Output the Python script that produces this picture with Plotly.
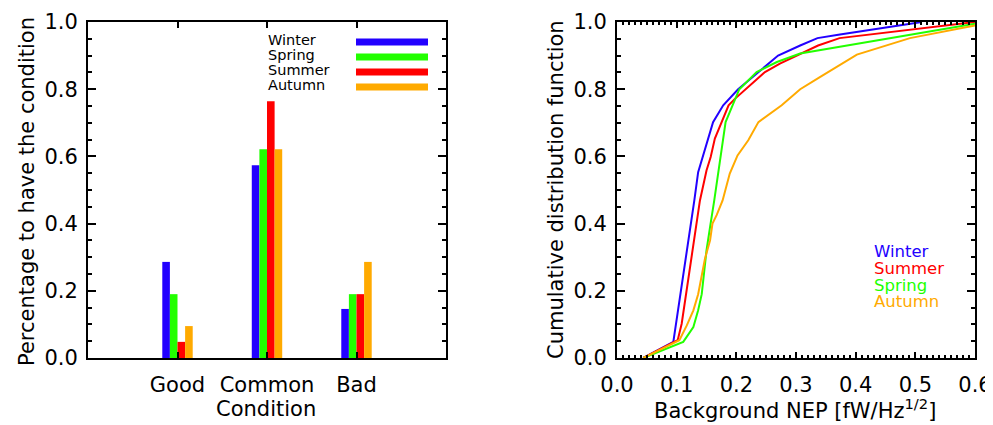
import plotly.graph_objects as go

# ---------------- data ----------------
conditions = ["Good", "Common", "Bad"]
seasons = ["Winter", "Spring", "Summer", "Autumn"]
winter_pct = [0.286, 0.574, 0.146]
spring_pct = [0.190, 0.621, 0.190]
summer_pct = [0.048, 0.764, 0.190]
autumn_pct = [0.095, 0.621, 0.286]

winter_nep = [0.044, 0.0944, 0.1296, 0.136, 0.161, 0.178, 0.203, 0.237, 0.270, 0.307, 0.336, 0.371, 0.511]
winter_cdf = [0.0, 0.048, 0.469, 0.553, 0.702, 0.752, 0.800, 0.851, 0.900, 0.930, 0.952, 0.962, 1.0]

summer_nep = [0.044, 0.1017, 0.1084, 0.139, 0.150, 0.157, 0.164, 0.187, 0.198, 0.248, 0.273, 0.307, 0.337, 0.373, 0.6]
summer_cdf = [0.0, 0.053, 0.102, 0.469, 0.558, 0.598, 0.653, 0.752, 0.772, 0.851, 0.876, 0.906, 0.930, 0.952, 1.0]

spring_nep = [0.044, 0.111, 0.128, 0.136, 0.142, 0.145, 0.150, 0.156, 0.163, 0.182, 0.205, 0.234, 0.268, 0.307, 0.6]
spring_cdf = [0.0, 0.048, 0.092, 0.142, 0.190, 0.241, 0.320, 0.390, 0.469, 0.702, 0.800, 0.851, 0.881, 0.906, 0.995]

autumn_nep = [0.044, 0.1045, 0.117, 0.128, 0.136, 0.142, 0.1475, 0.156, 0.160, 0.167, 0.177, 0.189, 0.202,
              0.220, 0.237, 0.276, 0.307, 0.340, 0.402, 0.491, 0.6]
autumn_cdf = [0.0, 0.053, 0.097, 0.142, 0.190, 0.251, 0.296, 0.350, 0.400, 0.425, 0.469, 0.549, 0.603,
              0.648, 0.702, 0.752, 0.800, 0.836, 0.903, 0.952, 0.99]

colors = {"Winter": "#2200FF", "Spring": "#22FF00", "Summer": "#FF0000", "Autumn": "#FFAA00"}

# ---------------- layout helpers ----------------
# the page body has an 8 px margin, so the figure is drawn 8 px in from the window corner
OFF = 8
W, H = 993 - OFF, 425 - OFF
FONT = "DejaVu Sans"
TXT = 21


def px(x):
    return (x - OFF) / W


def py(y):
    return 1 - (y - OFF) / H


fig = go.Figure()

bar_vals = {"Winter": winter_pct, "Spring": spring_pct, "Summer": summer_pct, "Autumn": autumn_pct}
cat_pos = list(range(1, len(conditions) + 1))
for s in seasons:
    fig.add_trace(go.Bar(x=cat_pos, y=bar_vals[s], marker=dict(color=colors[s], line=dict(width=0)),
                         xaxis="x", yaxis="y", showlegend=False, name=s))

curves = [("Winter", winter_nep, winter_cdf), ("Summer", summer_nep, summer_cdf),
          ("Spring", spring_nep, spring_cdf), ("Autumn", autumn_nep, autumn_cdf)]
for name, xs, ys in curves:
    fig.add_trace(go.Scatter(x=xs, y=ys, mode="lines", line=dict(color=colors[name], width=2),
                             xaxis="x2", yaxis="y2", showlegend=False, name=name))

axis_common = dict(showline=True, linecolor="black", linewidth=2, mirror="allticks", automargin=False,
                   ticks="inside", tickcolor="black", tickwidth=2, showgrid=False, zeroline=False,
                   tickfont=dict(family=FONT, size=TXT, color="black"))

ydom = [py(358), py(22)]

fig.update_layout(
    width=W, height=H, margin=dict(l=0, r=0, t=0, b=0, autoexpand=False),
    paper_bgcolor="white", plot_bgcolor="white",
    barmode="group", bargap=0.66, bargroupgap=0,
    font=dict(family=FONT, color="black"),
    xaxis=dict(domain=[px(88), px(446)], range=[0, 4], tickvals=cat_pos, ticktext=conditions,
               ticklen=6, ticklabelstandoff=7, **axis_common),
    yaxis=dict(domain=ydom, range=[0, 1.0], dtick=0.2, tick0=0, tickformat=".1f", ticklen=8,
               minor=dict(dtick=0.05, ticklen=4, ticks="inside", tickcolor="black", tickwidth=2),
               ticklabelstandoff=4, **axis_common),
    xaxis2=dict(domain=[px(617), px(975)], range=[0, 0.6], dtick=0.1, tick0=0, tickformat=".1f",
                ticklen=6, anchor="y2",
                minor=dict(dtick=0.01, ticklen=3, ticks="inside", tickcolor="black", tickwidth=1.5),
                ticklabelstandoff=7, **axis_common),
    yaxis2=dict(domain=ydom, range=[0, 1.0], dtick=0.2, tick0=0, tickformat=".1f", ticklen=8, anchor="x2",
                minor=dict(dtick=0.05, ticklen=4, ticks="inside", tickcolor="black", tickwidth=2),
                ticklabelstandoff=4, **axis_common),
)

annotations = [
    dict(text="Percentage to have the condition", x=px(27), y=py(192), textangle=-90,
         font=dict(size=TXT)),
    dict(text="Cumulative distribution function", x=px(556), y=py(190), textangle=-90,
         font=dict(size=TXT)),
    dict(text="Condition", x=px(266), y=py(409), font=dict(size=TXT)),
    dict(text="Background NEP [fW/Hz<sup>1/2</sup>]", x=px(795), y=py(409), font=dict(size=TXT)),
]
for a in annotations:
    a.update(xref="paper", yref="paper", xanchor="center", yanchor="middle", showarrow=False)

# left legend: label + colour bar
shapes = []
left_leg_y = [40, 55, 70, 85]
for s, yy in zip(seasons, left_leg_y):
    annotations.append(dict(text=s, x=px(266), y=py(yy), xref="paper", yref="paper",
                            xanchor="left", yanchor="middle", showarrow=False,
                            font=dict(size=14.5, color="black")))
    shapes.append(dict(type="line", xref="paper", yref="paper", x0=px(356), x1=px(428),
                       y0=py(yy + 2), y1=py(yy + 2), line=dict(color=colors[s], width=7)))

# right legend: coloured labels
right_leg = ["Winter", "Summer", "Spring", "Autumn"]
right_leg_y = [251, 268, 285, 301.5]
for s, yy in zip(right_leg, right_leg_y):
    annotations.append(dict(text=s, x=px(872), y=py(yy), xref="paper", yref="paper",
                            xanchor="left", yanchor="middle", showarrow=False,
                            font=dict(size=16.5, color=colors[s])))

fig.update_layout(annotations=annotations, shapes=shapes)

fig.write_html("out.html")
